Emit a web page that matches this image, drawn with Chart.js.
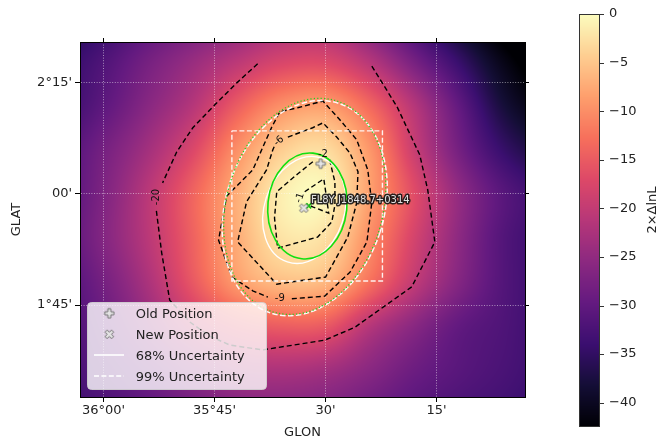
<!DOCTYPE html>
<html>
<head>
<meta charset="utf-8">
<script src="https://cdn.jsdelivr.net/npm/chart.js@4.4.0/dist/chart.umd.min.js"></script>
<style>
  html, body { margin: 0; padding: 0; background: #fff; }
  canvas { display: block; }
</style>
</head>
<body>
<canvas id="tsmapChart" width="658" height="441"></canvas>
<script>
// TS map grid (2*dlnL) at 0.1 deg nodes
const gridLon = [36.1, 36.0, 35.9, 35.8, 35.7, 35.6, 35.5, 35.4, 35.3, 35.2, 35.1, 35.0];
const gridLat = [2.4, 2.3, 2.2, 2.1, 2.0, 1.9, 1.8, 1.7, 1.6, 1.5];
const tsValues = [
    [-38, -35, -31.5, -29, -26.5, -23.5, -23, -28, -34, -40, -45, -48],
    [-35, -32, -28, -24.5, -21, -18, -17.5, -21.5, -28, -34.5, -41, -45],
    [-34, -30.5, -26, -21.5, -15, -10, -8.8, -13.8, -21.5, -30, -38, -42],
    [-32, -28, -23.3, -17.5, -10, -4.5, -3.1, -9.3, -19.4, -28, -34.5, -38],
    [-31.5, -27, -21, -14.2, -7.3, -1.5, -0.8, -8.5, -16.8, -25, -31, -34],
    [-31, -26.5, -21, -14.4, -7.5, -2.5, -2.9, -10.2, -18.2, -25.5, -31.5, -34],
    [-32, -28, -22.5, -15.5, -9, -6, -6.5, -12.9, -20.3, -26.5, -31.5, -34],
    [-32.5, -29.5, -25, -20, -16.5, -15, -15.5, -21.5, -26, -30, -32, -34],
    [-33, -31, -28.5, -25.5, -23, -22.5, -23.5, -26, -29, -31, -32.5, -34],
    [-34, -32.5, -30.5, -28.5, -27, -26.5, -27, -29, -31, -32.5, -33.5, -35]
];
const tsMin = -42.5;
const tsMax = 0;

const lonTicks = [36.0, 35.75, 35.5, 35.25];
const lonTickLabels = ["36°00'", "35°45'", "30'", "15'"];
const latTicks = [2.25, 2.0, 1.75];
const latTickLabels = ["2°15'", "00'", "1°45'"];
const colorbarTicks = [0, -5, -10, -15, -20, -25, -30, -35, -40];

// contour lines (null = gap for the label)
const contour20Lon = [35.653, 35.700, 35.750, 35.799, 35.835, 35.867, null, 35.881, 35.869, 35.851, 35.806, 35.761, 35.716, 35.642, 35.502, 35.434, 35.306, 35.254, 35.270, 35.288, 35.339, 35.396];
const contour20Lat = [2.293, 2.250, 2.200, 2.149, 2.095, 2.025, null, 1.962, 1.867, 1.761, 1.712, 1.680, 1.660, 1.649, 1.671, 1.700, 1.791, 1.892, 2.009, 2.088, 2.196, 2.288];
const contour9Lon = [35.576, 35.502, 35.445, 35.407, 35.396, 35.405, 35.430, 35.468, 35.506, 35.563, 35.603, 35.621, 35.664, 35.723, 35.741, 35.711, 35.664, 35.630];
const contour9Lat = [1.764, 1.770, 1.824, 1.892, 1.980, 2.054, 2.122, 2.167, 2.209, 2.194, 2.185, 2.151, 2.054, 1.995, 1.896, 1.813, 1.782, 1.768];
const contour6Lon = [35.585, 35.529, 35.506, 35.475, 35.445, 35.427, 35.430, 35.450, 35.500, 35.610, 35.698, 35.678, 35.633, 35.619, 35.615];
const contour6Lat = [2.128, 2.149, 2.160, 2.128, 2.092, 2.050, 1.980, 1.903, 1.813, 1.797, 1.892, 1.982, 2.054, 2.099, 2.108];
const contour2Lon = [35.491, 35.479, 35.479, 35.486, 35.518, 35.608, 35.615, 35.610, 35.563, 35.527];
const contour2Lat = [2.077, 2.027, 1.975, 1.937, 1.903, 1.878, 1.946, 2.005, 2.045, 2.074];
const contour1Lon = [35.547, 35.504, 35.493, 35.529, 35.542];
const contour1Lat = [2.005, 2.034, 1.957, 1.971, 1.977];

const contourLabels = ["-20", "-9", "-6", "-2", "-1"];
const contourLabelLon = [35.881, 35.603, 35.605, 35.506, 35.558];
const contourLabelLat = [1.993, 1.764, 2.119, 2.090, 1.991];
const contourLabelAngle = [-90, 0, -41, 0, -72];

// positions
const oldPosLon = [35.511];
const oldPosLat = [2.068];
const newPosLon = [35.549];
const newPosLat = [1.968];
const fitPosLon = [35.538];
const fitPosLat = [1.973];
const sourceName = "FL8Y J1848.7+0314";
const sourceLabelLon = 35.533;
const sourceLabelLat = 1.980;

// search box
const boxLon = [35.711, 35.372];
const boxLat = [2.142, 1.804];

// uncertainty ellipses: 99% (white dashed), green dotted, 68% (white), green solid
const ellipseLon = [35.547, 35.547, 35.548, 35.541];
const ellipseLat = [1.968, 1.972, 1.964, 1.973];
const ellipseMajor = [0.248, 0.248, 0.123, 0.1195];
const ellipseMinor = [0.178, 0.176, 0.090, 0.089];
const ellipseTilt = [18, 16, 18, 6];

const legendLabels = ["Old Position", "New Position", "68% Uncertainty", "99% Uncertainty"];

// ---- helpers ----
const magmaStops = [
    [0, 0, 4], [20, 14, 54], [59, 15, 112], [100, 26, 128], [140, 41, 129],
    [183, 55, 121], [222, 73, 104], [247, 112, 92], [254, 159, 109], [254, 207, 146], [252, 253, 191]
];

function magma(t) {
    t = Math.min(1, Math.max(0, t));
    const p = t * (magmaStops.length - 1);
    const i = Math.min(magmaStops.length - 2, Math.floor(p));
    const f = p - i;
    const a = magmaStops[i], b = magmaStops[i + 1];
    return [a[0] + (b[0] - a[0]) * f, a[1] + (b[1] - a[1]) * f, a[2] + (b[2] - a[2]) * f];
}

function cubic(p0, p1, p2, p3, t) {
    return p1 + 0.5 * t * (p2 - p0 + t * (2 * p0 - 5 * p1 + 4 * p2 - p3 + t * (3 * (p1 - p2) + p3 - p0)));
}

function tsAt(lon, lat) {
    const nc = gridLon.length, nr = gridLat.length;
    const fx = (gridLon[0] - lon) / (gridLon[0] - gridLon[1]);
    const fy = (gridLat[0] - lat) / (gridLat[0] - gridLat[1]);
    const ix = Math.floor(fx), iy = Math.floor(fy);
    const cx = k => Math.min(nc - 1, Math.max(0, k));
    const cy = k => Math.min(nr - 1, Math.max(0, k));
    const rows = [];
    for (let m = -1; m <= 2; m++) {
        const r = tsValues[cy(iy + m)];
        rows.push(cubic(r[cx(ix - 1)], r[cx(ix)], r[cx(ix + 1)], r[cx(ix + 2)], fx - ix));
    }
    return cubic(rows[0], rows[1], rows[2], rows[3], fy - iy);
}

function pts(lons, lats) {
    return lons.map((v, i) => ({ x: v, y: lats[i] }));
}

function markerCanvas(rotated) {
    const c = document.createElement("canvas");
    c.width = 13; c.height = 13;
    const g = c.getContext("2d");
    g.translate(6.5, 6.5);
    if (rotated) g.rotate(Math.PI / 4);
    const a = 1.5, b = 4.6;
    g.beginPath();
    g.moveTo(-a, -b); g.lineTo(a, -b); g.lineTo(a, -a); g.lineTo(b, -a); g.lineTo(b, a); g.lineTo(a, a);
    g.lineTo(a, b); g.lineTo(-a, b); g.lineTo(-a, a); g.lineTo(-b, a); g.lineTo(-b, -a); g.lineTo(-a, -a);
    g.closePath();
    g.fillStyle = "#e4e4e4";
    g.fill();
    g.strokeStyle = "#666";
    g.lineWidth = 0.9;
    g.stroke();
    return c;
}

const plusMarker = markerCanvas(false);
const xMarker = markerCanvas(true);

const ellipseStyles = [
    { color: "rgba(255,255,255,0.95)", width: 1.5, dash: [5.5, 2.4] },
    { color: "#22d022", width: 1.3, dash: [1.2, 2.2] },
    { color: "#ffffff", width: 1.3, dash: [] },
    { color: "#11e011", width: 1.6, dash: [] }
];

// ---- plugins ----
const heatmapPlugin = {
    id: "heatmap",
    beforeDraw(chart) {
        const { ctx, chartArea: area, scales } = chart;
        const w = Math.ceil(area.right - area.left);
        const h = Math.ceil(area.bottom - area.top);
        const off = document.createElement("canvas");
        off.width = w; off.height = h;
        const g = off.getContext("2d");
        const img = g.createImageData(w, h);
        for (let j = 0; j < h; j++) {
            const lat = scales.y.getValueForPixel(area.top + j + 0.5);
            for (let i = 0; i < w; i++) {
                const lon = scales.x.getValueForPixel(area.left + i + 0.5);
                const c = magma((tsAt(lon, lat) - tsMin) / (tsMax - tsMin));
                const k = (j * w + i) * 4;
                img.data[k] = c[0]; img.data[k + 1] = c[1]; img.data[k + 2] = c[2]; img.data[k + 3] = 255;
            }
        }
        g.putImageData(img, 0, 0);
        ctx.drawImage(off, area.left, area.top);
    }
};

const overlayPlugin = {
    id: "overlay",
    afterDatasetDraw(chart, args) {
        // ellipses go right after the box, below the markers
        if (args.index !== 3) return;
        const { ctx, chartArea: area, scales: { x, y } } = chart;
        ctx.save();
        ctx.beginPath();
        ctx.rect(area.left, area.top, area.right - area.left, area.bottom - area.top);
        ctx.clip();
        ellipseLon.forEach((lon, i) => {
            const cx = x.getPixelForValue(lon);
            const cy = y.getPixelForValue(ellipseLat[i]);
            const rx = Math.abs(x.getPixelForValue(lon + ellipseMinor[i]) - cx);
            const ry = Math.abs(y.getPixelForValue(ellipseLat[i] + ellipseMajor[i]) - cy);
            const s = ellipseStyles[i];
            ctx.beginPath();
            ctx.ellipse(cx, cy, rx, ry, ellipseTilt[i] * Math.PI / 180, 0, Math.PI * 2);
            ctx.strokeStyle = s.color;
            ctx.lineWidth = s.width;
            ctx.setLineDash(s.dash);
            ctx.stroke();
        });
        ctx.restore();
    },
    afterDatasetsDraw(chart) {
        const { ctx, scales: { x, y } } = chart;
        ctx.save();
        // contour labels
        ctx.font = "10px 'DejaVu Sans'";
        ctx.fillStyle = "#111";
        ctx.textAlign = "center";
        ctx.textBaseline = "middle";
        contourLabels.forEach((t, i) => {
            ctx.save();
            ctx.translate(x.getPixelForValue(contourLabelLon[i]), y.getPixelForValue(contourLabelLat[i]));
            ctx.rotate(contourLabelAngle[i] * Math.PI / 180);
            ctx.fillText(t, 0, 0);
            ctx.restore();
        });
        // source name with outline
        ctx.font = "10px 'DejaVu Sans'";
        ctx.textAlign = "left";
        ctx.textBaseline = "alphabetic";
        const sx = x.getPixelForValue(sourceLabelLon);
        const sy = y.getPixelForValue(sourceLabelLat);
        ctx.lineJoin = "round";
        ctx.lineWidth = 3;
        ctx.strokeStyle = "rgba(20,20,20,0.9)";
        ctx.strokeText(sourceName, sx, sy);
        ctx.fillStyle = "#e2e2e2";
        ctx.fillText(sourceName, sx, sy);
        ctx.restore();
    },
    afterDraw(chart) {
        const ctx = chart.ctx;
        ctx.save();
        // legend
        ctx.beginPath();
        ctx.roundRect(87.5, 302.5, 179, 87, 4);
        ctx.fillStyle = "rgba(255,255,255,0.8)";
        ctx.fill();
        ctx.strokeStyle = "rgba(210,210,210,0.9)";
        ctx.lineWidth = 1;
        ctx.stroke();
        ctx.drawImage(plusMarker, 109.3 - 6.5, 313.3 - 6.5);
        ctx.drawImage(xMarker, 109.3 - 6.5, 334.3 - 6.5);
        ctx.strokeStyle = "#ffffff";
        ctx.lineWidth = 1.6;
        ctx.beginPath(); ctx.moveTo(94, 355); ctx.lineTo(124, 355); ctx.stroke();
        ctx.setLineDash([5, 2.4]);
        ctx.beginPath(); ctx.moveTo(94, 376); ctx.lineTo(124, 376); ctx.stroke();
        ctx.setLineDash([]);
        ctx.font = "13px 'DejaVu Sans'";
        ctx.fillStyle = "#222";
        ctx.textAlign = "left";
        ctx.textBaseline = "alphabetic";
        const baselines = [318.3, 339.2, 360, 380.8];
        legendLabels.forEach((t, i) => ctx.fillText(t, 135.7, baselines[i]));

        // colorbar
        const cbL = 579, cbR = 600, cbT = 14, cbB = 427;
        for (let yy = cbT; yy < cbB; yy++) {
            const v = tsMax - (yy + 0.5 - cbT) / (cbB - cbT) * (tsMax - tsMin);
            const c = magma((v - tsMin) / (tsMax - tsMin));
            ctx.fillStyle = `rgb(${c[0] | 0},${c[1] | 0},${c[2] | 0})`;
            ctx.fillRect(cbL, yy, cbR - cbL, 1);
        }
        ctx.strokeStyle = "#333";
        ctx.lineWidth = 1;
        ctx.strokeRect(cbL + 0.5, cbT + 0.5, cbR - cbL - 1, cbB - cbT - 1);
        ctx.fillStyle = "#222";
        ctx.textBaseline = "middle";
        colorbarTicks.forEach(v => {
            const yy = cbT + (tsMax - v) / (tsMax - tsMin) * (cbB - cbT);
            ctx.beginPath();
            ctx.moveTo(cbR, Math.round(yy) + 0.5);
            ctx.lineTo(cbR + 4, Math.round(yy) + 0.5);
            ctx.stroke();
            ctx.fillText(v < 0 ? "\u2212" + Math.abs(v) : String(v), 609, yy);
        });
        ctx.translate(653, 210);
        ctx.rotate(-Math.PI / 2);
        ctx.textAlign = "center";
        ctx.fillText("2\u00d7\u0394lnL", 0, 0);
        ctx.restore();
    }
};

// ---- chart ----
Chart.defaults.font.family = "'DejaVu Sans', sans-serif";
Chart.defaults.font.size = 13;
Chart.defaults.color = "#222";

const lonRange = { min: 35.051, max: 36.053 };
const latRange = { min: 1.543, max: 2.342 };

function axis(extra) {
    return Object.assign({
        type: "linear",
        grid: { color: "rgba(255,255,255,0.5)", lineWidth: 1, tickColor: "#000", tickLength: 5, drawOnChartArea: true },
        border: { color: "#000", width: 1, dash: [1, 1.6] }
    }, extra);
}

const contourStyle = {
    showLine: true, borderColor: "#000", borderWidth: 1.4, borderDash: [5, 3],
    pointRadius: 0, fill: false, tension: 0
};

new Chart(document.getElementById("tsmapChart"), {
    type: "scatter",
    data: {
        datasets: [
            { label: "Old Position", data: pts(oldPosLon, oldPosLat), pointStyle: plusMarker, pointRadius: 5 },
            { label: "New Position", data: pts(newPosLon, newPosLat), pointStyle: xMarker, pointRadius: 5 },
            { label: "fit", data: pts(fitPosLon, fitPosLat), pointStyle: "crossRot", pointRadius: 3.5, borderColor: "#10c810", borderWidth: 1.8 },
            {
                label: "box",
                data: pts([boxLon[0], boxLon[1], boxLon[1], boxLon[0], boxLon[0]], [boxLat[0], boxLat[0], boxLat[1], boxLat[1], boxLat[0]]),
                showLine: true, borderColor: "rgba(255,255,255,0.9)", borderWidth: 1.4, borderDash: [5, 2.5], pointRadius: 0
            },
            Object.assign({ label: "-1", data: pts(contour1Lon, contour1Lat) }, contourStyle),
            Object.assign({ label: "-2", data: pts(contour2Lon, contour2Lat) }, contourStyle),
            Object.assign({ label: "-6", data: pts(contour6Lon, contour6Lat) }, contourStyle),
            Object.assign({ label: "-9", data: pts(contour9Lon, contour9Lat) }, contourStyle),
            Object.assign({ label: "-20", data: pts(contour20Lon, contour20Lat) }, contourStyle)
        ]
    },
    options: {
        responsive: false,
        animation: false,
        devicePixelRatio: 1,
        layout: { padding: 0 },
        plugins: { legend: { display: false }, tooltip: { enabled: false } },
        scales: {
            x: axis(Object.assign({
                position: "bottom", reverse: true,
                afterBuildTicks: s => { s.ticks = lonTicks.map(v => ({ value: v })); },
                ticks: { callback: v => lonTickLabels[lonTicks.indexOf(v)], padding: 1, maxRotation: 0, autoSkip: false },
                title: { display: true, text: "GLON", padding: { top: 0, bottom: 1 } },
                afterFit: s => { s.height = 44; }
            }, lonRange)),
            x2: axis(Object.assign({
                position: "top", reverse: true,
                afterBuildTicks: s => { s.ticks = lonTicks.map(v => ({ value: v })); },
                ticks: { display: false },
                grid: { drawOnChartArea: false, tickColor: "#000", tickLength: 4 },
                afterFit: s => { s.height = 42; }
            }, lonRange)),
            y: axis(Object.assign({
                position: "left",
                afterBuildTicks: s => { s.ticks = latTicks.map(v => ({ value: v })); },
                ticks: { callback: v => latTickLabels[latTicks.indexOf(v)], padding: 3, autoSkip: false },
                title: { display: true, text: "GLAT", padding: { top: 9, bottom: 0 } },
                afterFit: s => { s.width = 80; }
            }, latRange)),
            y2: axis(Object.assign({
                position: "right",
                afterBuildTicks: s => { s.ticks = latTicks.map(v => ({ value: v })); },
                ticks: { display: false },
                grid: { drawOnChartArea: false, tickColor: "#000", tickLength: 4 },
                afterFit: s => { s.width = 133; }
            }, latRange))
        }
    },
    plugins: [heatmapPlugin, overlayPlugin]
});
</script>
</body>
</html>
